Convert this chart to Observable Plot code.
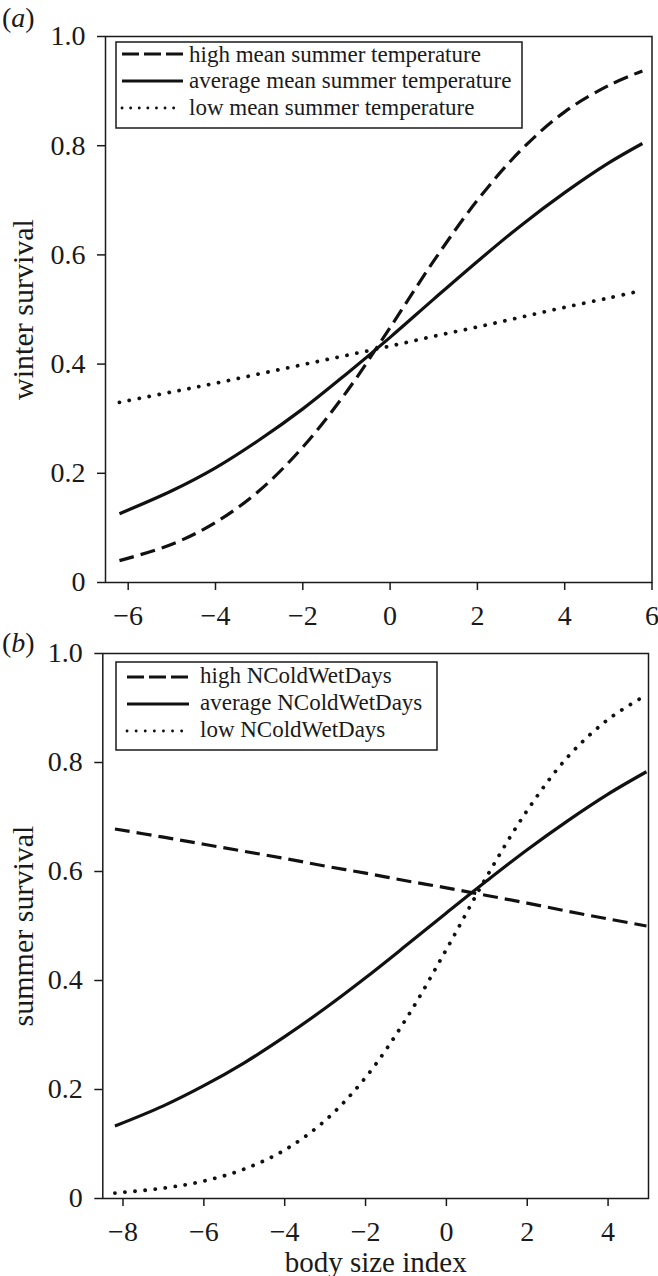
<!DOCTYPE html>
<html><head><meta charset="utf-8">
<script src="https://cdn.jsdelivr.net/npm/d3@7"></script>
<script src="https://cdn.jsdelivr.net/npm/@observablehq/plot@0.6"></script>
<style>
html,body{margin:0;padding:0;background:#fff;}
#page{position:relative;width:658px;height:1276px;overflow:hidden;background:#fff;font-family:"Liberation Serif","Times New Roman",serif;color:#1a1a1a;}
.panel{position:absolute;left:0;}
.tag{position:absolute;left:2px;font-size:28px;line-height:28px;white-space:nowrap;}
#overlay{position:absolute;left:0;top:0;pointer-events:none;}
</style></head><body><div id="page"></div>
<script>
// ---- data ----
const xA = [-6.2,-5,-4,-3,-2,-1,0,1,2,3,4,5,5.78];
const highA = [0.040,0.070,0.110,0.168,0.248,0.349,0.467,0.589,0.700,0.792,0.862,0.910,0.937];
const avgA  = [0.126,0.168,0.210,0.261,0.318,0.382,0.449,0.519,0.588,0.654,0.714,0.768,0.804];
const lowA  = [0.330,0.349,0.365,0.382,0.399,0.416,0.433,0.451,0.468,0.486,0.504,0.521,0.535];
const xB = [-8.2,-7,-6,-5,-4,-3,-2,-1,0,1,2,3,4,4.95];
const highB = [0.678,0.663,0.650,0.637,0.624,0.610,0.597,0.583,0.570,0.556,0.542,0.527,0.513,0.500];
const avgB  = [0.133,0.170,0.207,0.249,0.297,0.349,0.405,0.464,0.524,0.583,0.640,0.693,0.742,0.783];
const lowB  = [0.010,0.019,0.032,0.054,0.089,0.143,0.222,0.329,0.457,0.591,0.712,0.810,0.879,0.924];
const ticksXA = [-6,-4,-2,0,2,4,6];
const ticksXB = [-8,-6,-4,-2,0,2,4];
const ticksY = [0,0.2,0.4,0.6,0.8,1.0];
const seriesA = ["high mean summer temperature","average mean summer temperature","low mean summer temperature"];
const seriesB = ["high NColdWetDays","average NColdWetDays","low NColdWetDays"];
const yLabelA = "winter survival";
const yLabelB = "summer survival";
const xLabelB = "body size index";

const INK = "#1a1a1a";
const lineStyles = [
  {strokeDasharray: "15 7", strokeLinecap: "butt"},
  {strokeLinecap: "butt"},
  {strokeDasharray: "0.1 10", strokeLinecap: "round", strokeWidth: 3.8}
];

function panel({xs, ys, names, xDomain, xTicks, yLabel, xLabel, height, m}) {
  const rows = [];
  names.forEach((n, i) => xs.forEach((x, j) => rows.push({series: n, x, y: ys[i][j]})));
  const svg = Plot.plot({
    width: 658, height,
    marginTop: m.top, marginRight: m.right, marginBottom: m.bottom, marginLeft: m.left,
    style: {fontFamily: '"Liberation Serif", "Times New Roman", serif', fontSize: "28px", color: INK, background: "transparent", overflow: "visible"},
    x: {domain: xDomain},
    y: {domain: [0, 1]},
    marks: [
      ...names.map((n, i) => Plot.line(rows.filter(r => r.series === n), {
        x: "x", y: "y", stroke: "#111", strokeWidth: 3.2, curve: "catmull-rom", ...lineStyles[i]
      })),
      Plot.frame({stroke: INK, strokeWidth: 1.5}),
      Plot.axisX({ticks: xTicks, tickSize: 8, tickPadding: 15, strokeWidth: 1.5,
        label: xLabel, labelAnchor: "center", labelArrow: "none", labelOffset: m.xlo}),
      Plot.axisY({ticks: ticksY, tickFormat: d => d === 0 ? "0" : d.toFixed(1), tickSize: 8, tickPadding: 12, strokeWidth: 1.5,
        label: yLabel, labelAnchor: "center", labelArrow: "none", labelOffset: m.ylo})
    ]
  });
  d3.select(svg).selectAll('g[aria-label="y-axis label"]').attr("font-size", 30);
  d3.select(svg).selectAll('g[aria-label="x-axis label"]').attr("font-size", 29);
  return svg;
}

const page = document.getElementById("page");

const svgA = panel({xs: xA, ys: [highA, avgA, lowA], names: seriesA, xDomain: [-6.52, 6.0], xTicks: ticksXA,
  yLabel: yLabelA, xLabel: null, height: 620, m: {top: 36, right: 6.5, bottom: 38, left: 105, ylo: 94, xlo: 30}});
svgA.classList.add("panel"); svgA.style.top = "0px";
page.appendChild(svgA);

const svgB = panel({xs: xB, ys: [highB, avgB, lowB], names: seriesB, xDomain: [-8.5, 5.0], xTicks: ticksXB,
  yLabel: yLabelB, xLabel: xLabelB, height: 656, m: {top: 33, right: 10, bottom: 78, left: 102.3, ylo: 91, xlo: 73}});
svgB.classList.add("panel"); svgB.style.top = "620px";
page.appendChild(svgB);

// panel tags
function tag(letter, top) {
  const d = document.createElement("div");
  d.className = "tag"; d.style.top = top + "px";
  d.innerHTML = "(<i>" + letter + "</i>)";
  page.appendChild(d);
}
tag("a", 4);
tag("b", 629);

// legends
const ov = d3.select(page).append("svg").attr("id", "overlay").attr("width", 658).attr("height", 1276);
function legend({names, box, lineX0, lineX1, textX, lineYs, baseYs, dotGap}) {
  const g = ov.append("g");
  g.append("rect").attr("x", box.x).attr("y", box.y).attr("width", box.w).attr("height", box.h)
    .attr("fill", "#fff").attr("stroke", INK).attr("stroke-width", 1.5);
  const dashes = ["17 5", null, "0.1 " + dotGap];
  names.forEach((n, i) => {
    const l = g.append("line").attr("x1", lineX0).attr("x2", i === 2 ? lineX1 - 2 : lineX1)
      .attr("y1", lineYs[i]).attr("y2", lineYs[i]).attr("stroke", "#111")
      .attr("stroke-width", i === 2 ? 2.8 : 3.2).attr("stroke-linecap", i === 2 ? "round" : "butt");
    if (dashes[i]) l.attr("stroke-dasharray", dashes[i]);
    g.append("text").attr("x", textX).attr("y", baseYs[i]).text(n)
      .attr("font-family", '"Liberation Serif", "Times New Roman", serif').attr("font-size", 23).attr("fill", INK);
  });
}
legend({names: seriesA, box: {x: 116, y: 42, w: 406, h: 86}, lineX0: 122, lineX1: 183, textX: 189,
  lineYs: [54, 81, 108], baseYs: [61.5, 88, 115], dotGap: 8.5});
legend({names: seriesB, box: {x: 116, y: 662, w: 321, h: 88}, lineX0: 127, lineX1: 189, textX: 200,
  lineYs: [677, 704, 731], baseYs: [683, 710, 737], dotGap: 9});
</script></body></html>
